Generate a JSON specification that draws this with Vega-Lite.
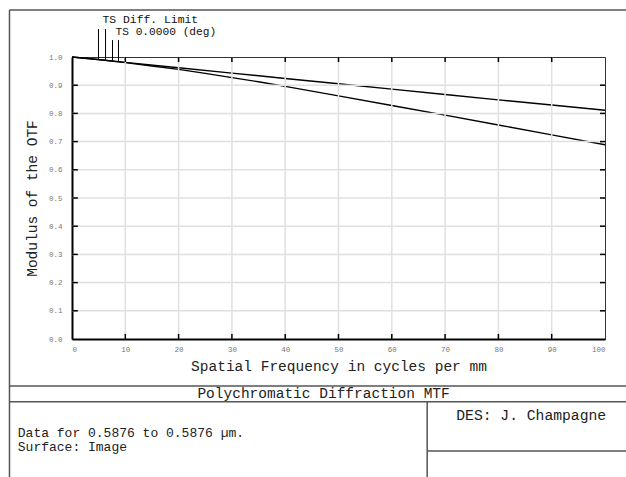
{
  "$schema": "https://vega.github.io/schema/vega-lite/v6.json",
  "width": 533,
  "height": 282,
  "autosize": {"type": "none"},
  "padding": {"left": 72, "top": 57, "right": 21, "bottom": 138},
  "background": "white",
  "datasets": {
    "mtf": [
      {"series": "TS Diff. Limit", "freq": 0, "mtf": 1.0},
      {"series": "TS Diff. Limit", "freq": 10, "mtf": 0.981},
      {"series": "TS Diff. Limit", "freq": 20, "mtf": 0.962},
      {"series": "TS Diff. Limit", "freq": 30, "mtf": 0.943},
      {"series": "TS Diff. Limit", "freq": 40, "mtf": 0.924},
      {"series": "TS Diff. Limit", "freq": 50, "mtf": 0.905},
      {"series": "TS Diff. Limit", "freq": 60, "mtf": 0.886},
      {"series": "TS Diff. Limit", "freq": 70, "mtf": 0.867},
      {"series": "TS Diff. Limit", "freq": 80, "mtf": 0.848},
      {"series": "TS Diff. Limit", "freq": 90, "mtf": 0.830},
      {"series": "TS Diff. Limit", "freq": 100, "mtf": 0.811},
      {"series": "TS 0.0000 (deg)", "freq": 0, "mtf": 1.0},
      {"series": "TS 0.0000 (deg)", "freq": 5, "mtf": 0.991},
      {"series": "TS 0.0000 (deg)", "freq": 10, "mtf": 0.980},
      {"series": "TS 0.0000 (deg)", "freq": 15, "mtf": 0.968},
      {"series": "TS 0.0000 (deg)", "freq": 20, "mtf": 0.956},
      {"series": "TS 0.0000 (deg)", "freq": 25, "mtf": 0.942},
      {"series": "TS 0.0000 (deg)", "freq": 30, "mtf": 0.927},
      {"series": "TS 0.0000 (deg)", "freq": 35, "mtf": 0.912},
      {"series": "TS 0.0000 (deg)", "freq": 40, "mtf": 0.896},
      {"series": "TS 0.0000 (deg)", "freq": 50, "mtf": 0.862},
      {"series": "TS 0.0000 (deg)", "freq": 60, "mtf": 0.828},
      {"series": "TS 0.0000 (deg)", "freq": 70, "mtf": 0.794},
      {"series": "TS 0.0000 (deg)", "freq": 80, "mtf": 0.759},
      {"series": "TS 0.0000 (deg)", "freq": 90, "mtf": 0.724},
      {"series": "TS 0.0000 (deg)", "freq": 100, "mtf": 0.689}
    ],
    "markers": [
      {"series": "TS Diff. Limit", "freq": 4.97, "mtf": 0.9905},
      {"series": "TS Diff. Limit", "freq": 6.29, "mtf": 0.988},
      {"series": "TS 0.0000 (deg)", "freq": 7.6, "mtf": 0.985},
      {"series": "TS 0.0000 (deg)", "freq": 8.72, "mtf": 0.983}
    ],
    "xticks": [
      {"freq": 10}, {"freq": 20}, {"freq": 30}, {"freq": 40}, {"freq": 50},
      {"freq": 60}, {"freq": 70}, {"freq": 80}, {"freq": 90}
    ],
    "yticks": [
      {"mtf": 0.1}, {"mtf": 0.2}, {"mtf": 0.3}, {"mtf": 0.4}, {"mtf": 0.5},
      {"mtf": 0.6}, {"mtf": 0.7}, {"mtf": 0.8}, {"mtf": 0.9}
    ]
  },
  "config": {
    "view": {"stroke": "#333", "strokeWidth": 1},
    "axis": {
      "labelFont": "Liberation Mono",
      "titleFont": "Liberation Mono",
      "labelFontSize": 7.5,
      "labelColor": "#777",
      "titleFontSize": 14.5,
      "titleFontWeight": "normal",
      "titleColor": "#222",
      "ticks": false,
      "domainColor": "#000",
      "domainWidth": 2,
      "grid": false
    }
  },
  "resolve": {"axis": {"x": "independent", "y": "independent"}},
  "layer": [
    {
      "data": {"name": "mtf"},
      "mark": {"type": "line", "color": "#000", "strokeWidth": 1.4},
      "encoding": {
        "x": {
          "field": "freq", "type": "quantitative",
          "scale": {"domain": [0, 100], "nice": false, "zero": false},
          "axis": {
            "orient": "bottom",
            "values": [0, 10, 20, 30, 40, 50, 60, 70, 80, 90, 100],
            "format": "d",
            "labelPadding": 6,
            "title": "Spatial Frequency in cycles per mm",
            "titlePadding": 7
          }
        },
        "y": {
          "field": "mtf", "type": "quantitative",
          "scale": {"domain": [0, 1], "nice": false, "zero": false},
          "axis": {
            "orient": "left",
            "values": [0, 0.1, 0.2, 0.3, 0.4, 0.5, 0.6, 0.7, 0.8, 0.9, 1.0],
            "format": ".1f",
            "labelPadding": 10,
            "title": "Modulus of the OTF",
            "titlePadding": 9
          }
        },
        "detail": {"field": "series"}
      }
    },
    {
      "data": {"name": "xticks"},
      "mark": {"type": "rule", "color": "#e0e0e0", "strokeWidth": 1.5, "zindex": -1},
      "encoding": {
        "x": {"field": "freq", "type": "quantitative", "scale": {"domain": [0, 100], "nice": false, "zero": false}, "axis": null},
        "y": {"datum": 0.0, "type": "quantitative", "scale": {"domain": [0, 1], "nice": false, "zero": false}, "axis": null},
        "y2": {"datum": 1.0}
      }
    },
    {
      "data": {"name": "yticks"},
      "mark": {"type": "rule", "color": "#e0e0e0", "strokeWidth": 1.5, "zindex": -1},
      "encoding": {
        "y": {"field": "mtf", "type": "quantitative", "scale": {"domain": [0, 1], "nice": false, "zero": false}, "axis": null},
        "x": {"datum": 0, "type": "quantitative", "scale": {"domain": [0, 100], "nice": false, "zero": false}, "axis": null},
        "x2": {"datum": 100}
      }
    },
    {
      "data": {"name": "xticks"},
      "mark": {"type": "rule", "color": "#000", "strokeWidth": 1.5},
      "encoding": {
        "x": {"field": "freq", "type": "quantitative", "scale": {"domain": [0, 100], "nice": false, "zero": false}, "axis": null},
        "y": {"datum": 1.0, "type": "quantitative", "scale": {"domain": [0, 1], "nice": false, "zero": false}, "axis": null},
        "y2": {"datum": 0.982}
      }
    },
    {
      "data": {"name": "xticks"},
      "mark": {"type": "rule", "color": "#000", "strokeWidth": 1.5},
      "encoding": {
        "x": {"field": "freq", "type": "quantitative", "scale": {"domain": [0, 100], "nice": false, "zero": false}, "axis": null},
        "y": {"datum": 0.0, "type": "quantitative", "scale": {"domain": [0, 1], "nice": false, "zero": false}, "axis": null},
        "y2": {"datum": 0.018}
      }
    },
    {
      "data": {"name": "yticks"},
      "mark": {"type": "rule", "color": "#000", "strokeWidth": 1.5},
      "encoding": {
        "y": {"field": "mtf", "type": "quantitative", "scale": {"domain": [0, 1], "nice": false, "zero": false}, "axis": null},
        "x": {"datum": 100, "type": "quantitative", "scale": {"domain": [0, 100], "nice": false, "zero": false}, "axis": null},
        "x2": {"datum": 99.06}
      }
    },
    {
      "data": {"name": "yticks"},
      "mark": {"type": "rule", "color": "#000", "strokeWidth": 1.5},
      "encoding": {
        "y": {"field": "mtf", "type": "quantitative", "scale": {"domain": [0, 1], "nice": false, "zero": false}, "axis": null},
        "x": {"datum": 0, "type": "quantitative", "scale": {"domain": [0, 100], "nice": false, "zero": false}, "axis": null},
        "x2": {"datum": 1.1}
      }
    },
    {
      "data": {"name": "markers"},
      "transform": [{"filter": "datum.series === 'TS Diff. Limit'"}],
      "mark": {"type": "rule", "color": "#000", "strokeWidth": 1},
      "encoding": {
        "x": {"field": "freq", "type": "quantitative", "scale": {"domain": [0, 100], "nice": false, "zero": false}, "axis": null},
        "y": {"field": "mtf", "type": "quantitative", "scale": {"domain": [0, 1], "nice": false, "zero": false}, "axis": null},
        "y2": {"datum": 1.099}
      }
    },
    {
      "data": {"name": "markers"},
      "transform": [{"filter": "datum.series === 'TS 0.0000 (deg)'"}],
      "mark": {"type": "rule", "color": "#000", "strokeWidth": 1},
      "encoding": {
        "x": {"field": "freq", "type": "quantitative", "scale": {"domain": [0, 100], "nice": false, "zero": false}, "axis": null},
        "y": {"field": "mtf", "type": "quantitative", "scale": {"domain": [0, 1], "nice": false, "zero": false}, "axis": null},
        "y2": {"datum": 1.06}
      }
    },
    {
      "data": {"values": [{}]},
      "mark": {"type": "text", "font": "Liberation Mono", "fontSize": 11.4, "align": "left", "baseline": "middle", "color": "#111"},
      "encoding": {
        "x": {"datum": 5.72, "type": "quantitative", "scale": {"domain": [0, 100], "nice": false, "zero": false}, "axis": null},
        "y": {"datum": 1.131, "type": "quantitative", "scale": {"domain": [0, 1], "nice": false, "zero": false}, "axis": null},
        "text": {"value": "TS Diff. Limit"}
      }
    },
    {
      "data": {"values": [{}]},
      "mark": {"type": "text", "font": "Liberation Mono", "fontSize": 11.2, "align": "left", "baseline": "middle", "color": "#111"},
      "encoding": {
        "x": {"datum": 8.16, "type": "quantitative", "scale": {"domain": [0, 100], "nice": false, "zero": false}, "axis": null},
        "y": {"datum": 1.089, "type": "quantitative", "scale": {"domain": [0, 1], "nice": false, "zero": false}, "axis": null},
        "text": {"value": "TS 0.0000 (deg)"}
      }
    },
    {
      "data": {"values": [{}]},
      "mark": {"type": "rule", "color": "#555", "strokeWidth": 1.5},
      "encoding": {
        "x": {"datum": -11.73, "type": "quantitative", "scale": {"domain": [0, 100], "nice": false, "zero": false}, "axis": null},
        "x2": {"datum": 105},
        "y": {"datum": 1.1667, "type": "quantitative", "scale": {"domain": [0, 1], "nice": false, "zero": false}, "axis": null}
      }
    },
    {
      "data": {"values": [{}]},
      "mark": {"type": "rule", "color": "#555", "strokeWidth": 1.5},
      "encoding": {
        "x": {"datum": -11.73, "type": "quantitative", "scale": {"domain": [0, 100], "nice": false, "zero": false}, "axis": null},
        "y": {"datum": 1.1667, "type": "quantitative", "scale": {"domain": [0, 1], "nice": false, "zero": false}, "axis": null},
        "y2": {"datum": -0.5}
      }
    },
    {
      "data": {"values": [{}]},
      "mark": {"type": "rule", "color": "#555", "strokeWidth": 1.5},
      "encoding": {
        "x": {"datum": -11.73, "type": "quantitative", "scale": {"domain": [0, 100], "nice": false, "zero": false}, "axis": null},
        "x2": {"datum": 105},
        "y": {"datum": -0.1667, "type": "quantitative", "scale": {"domain": [0, 1], "nice": false, "zero": false}, "axis": null}
      }
    },
    {
      "data": {"values": [{}]},
      "mark": {"type": "rule", "color": "#555", "strokeWidth": 1.5},
      "encoding": {
        "x": {"datum": -11.73, "type": "quantitative", "scale": {"domain": [0, 100], "nice": false, "zero": false}, "axis": null},
        "x2": {"datum": 105},
        "y": {"datum": -0.2223, "type": "quantitative", "scale": {"domain": [0, 1], "nice": false, "zero": false}, "axis": null}
      }
    },
    {
      "data": {"values": [{}]},
      "mark": {"type": "rule", "color": "#555", "strokeWidth": 1.5},
      "encoding": {
        "x": {"datum": 66.64, "type": "quantitative", "scale": {"domain": [0, 100], "nice": false, "zero": false}, "axis": null},
        "y": {"datum": -0.2223, "type": "quantitative", "scale": {"domain": [0, 1], "nice": false, "zero": false}, "axis": null},
        "y2": {"datum": -0.5}
      }
    },
    {
      "data": {"values": [{}]},
      "mark": {"type": "rule", "color": "#555", "strokeWidth": 1.5},
      "encoding": {
        "x": {"datum": 66.64, "type": "quantitative", "scale": {"domain": [0, 100], "nice": false, "zero": false}, "axis": null},
        "x2": {"datum": 105},
        "y": {"datum": -0.397, "type": "quantitative", "scale": {"domain": [0, 1], "nice": false, "zero": false}, "axis": null}
      }
    },
    {
      "data": {"values": [{}]},
      "mark": {"type": "text", "font": "Liberation Mono", "fontSize": 14.5, "align": "center", "baseline": "middle", "color": "#222"},
      "encoding": {
        "x": {"datum": 47.2, "type": "quantitative", "scale": {"domain": [0, 100], "nice": false, "zero": false}, "axis": null},
        "y": {"datum": -0.195, "type": "quantitative", "scale": {"domain": [0, 1], "nice": false, "zero": false}, "axis": null},
        "text": {"value": "Polychromatic Diffraction MTF"}
      }
    },
    {
      "data": {"values": [{}]},
      "mark": {"type": "text", "font": "Liberation Mono", "fontSize": 13, "align": "left", "baseline": "middle", "color": "#222"},
      "encoding": {
        "x": {"datum": -10.17, "type": "quantitative", "scale": {"domain": [0, 100], "nice": false, "zero": false}, "axis": null},
        "y": {"datum": -0.333, "type": "quantitative", "scale": {"domain": [0, 1], "nice": false, "zero": false}, "axis": null},
        "text": {"value": "Data for 0.5876 to 0.5876 µm."}
      }
    },
    {
      "data": {"values": [{}]},
      "mark": {"type": "text", "font": "Liberation Mono", "fontSize": 13, "align": "left", "baseline": "middle", "color": "#222"},
      "encoding": {
        "x": {"datum": -10.17, "type": "quantitative", "scale": {"domain": [0, 100], "nice": false, "zero": false}, "axis": null},
        "y": {"datum": -0.383, "type": "quantitative", "scale": {"domain": [0, 1], "nice": false, "zero": false}, "axis": null},
        "text": {"value": "Surface: Image"}
      }
    },
    {
      "data": {"values": [{}]},
      "mark": {"type": "text", "font": "Liberation Mono", "fontSize": 14.7, "align": "center", "baseline": "middle", "color": "#222"},
      "encoding": {
        "x": {"datum": 86.15, "type": "quantitative", "scale": {"domain": [0, 100], "nice": false, "zero": false}, "axis": null},
        "y": {"datum": -0.2715, "type": "quantitative", "scale": {"domain": [0, 1], "nice": false, "zero": false}, "axis": null},
        "text": {"value": "DES: J. Champagne"}
      }
    }
  ]
}
